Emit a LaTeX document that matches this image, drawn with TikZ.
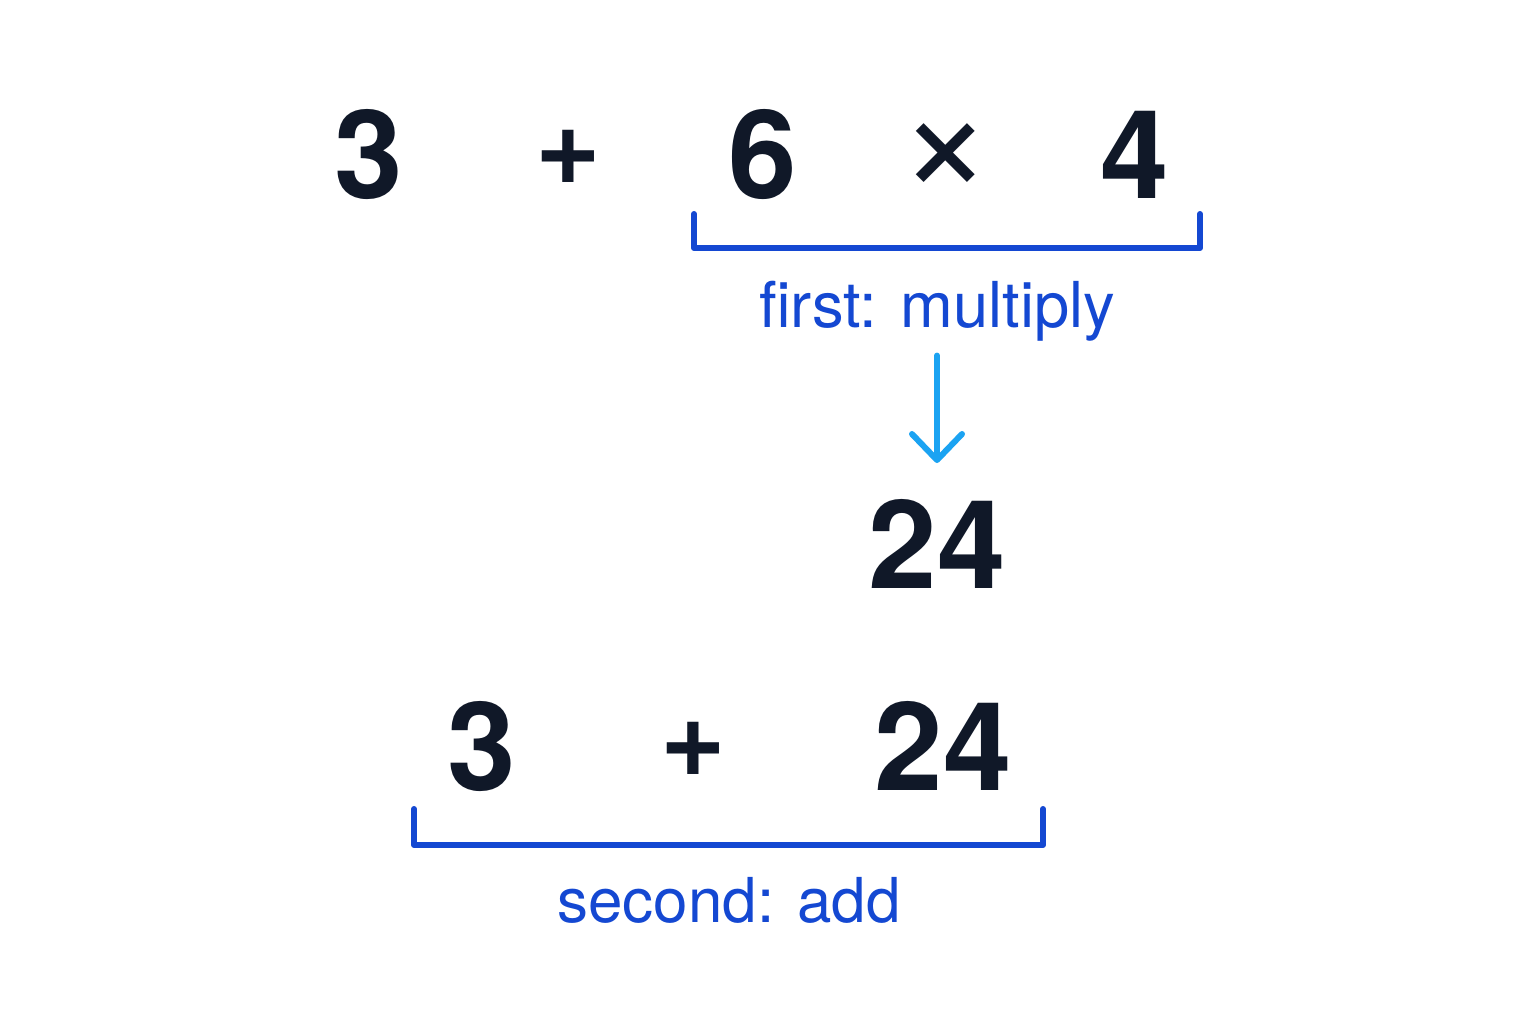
\documentclass[tikz,border=0pt]{standalone}
\usepackage{fontspec}
\setmainfont{TeX Gyre Heros}
\usetikzlibrary{arrows.meta,positioning}
\definecolor{ink}{HTML}{101828}
\definecolor{brblue}{HTML}{1448D2}
\definecolor{arblue}{HTML}{1BA3F2}
\tikzset{
  num/.style={font=\fontsize{35}{42}\selectfont\bfseries, text=ink, anchor=base, inner sep=0pt},
  opsign/.style={font=\fontsize{32}{38}\selectfont\bfseries, text=ink, anchor=center, inner sep=0pt},
  lbl/.style={font=\fontsize{18}{22}\selectfont, text=brblue, anchor=base, inner sep=0pt},
  brack/.style={draw=brblue, line width=1.7pt, line cap=round, line join=round}
}

\begin{document}
\begin{tikzpicture}[x=0.01cm,y=-0.01cm]
\fill[white] (0,0) rectangle (1536,1024);
\useasboundingbox (0,0) rectangle (1536,1024);
% top row
\node[num] (a3) at (369,198) {3};
\node[opsign] (aplus) at (568,157) {+};
\node[num] (a6) at (763,198) {6};
\node[opsign, font=\fontsize{46}{50}\selectfont] (atimes) at (946,159) {×};
\node[num] (a4) at (1135,198) {4};
\draw[brack] (694,214)--(694,248)--(1200,248)--(1200,214);
\node[lbl] (first) at (937,327) {first: multiply};
% result of the product
\node[num] (mid) at (937,588) {24};
\draw[arblue, line width=1.7pt, line cap=round, -{Straight Barb[length=2.6mm,width=5mm,round]}, shorten <=4pt, shorten >=10pt] (first.south) -- (mid.north);
% bottom row
\node[num] (b3) at (482,790) {3};
\node[opsign] (bplus) at (693,749) {+};
\node[num] (b24) at (943,790) {24};
\draw[brack] (414,809)--(414,845)--(1043,845)--(1043,809);
\node[lbl, font=\fontsize{17.6}{22}\selectfont] (second) at (729,922) {second: add};
\end{tikzpicture}
\end{document}
